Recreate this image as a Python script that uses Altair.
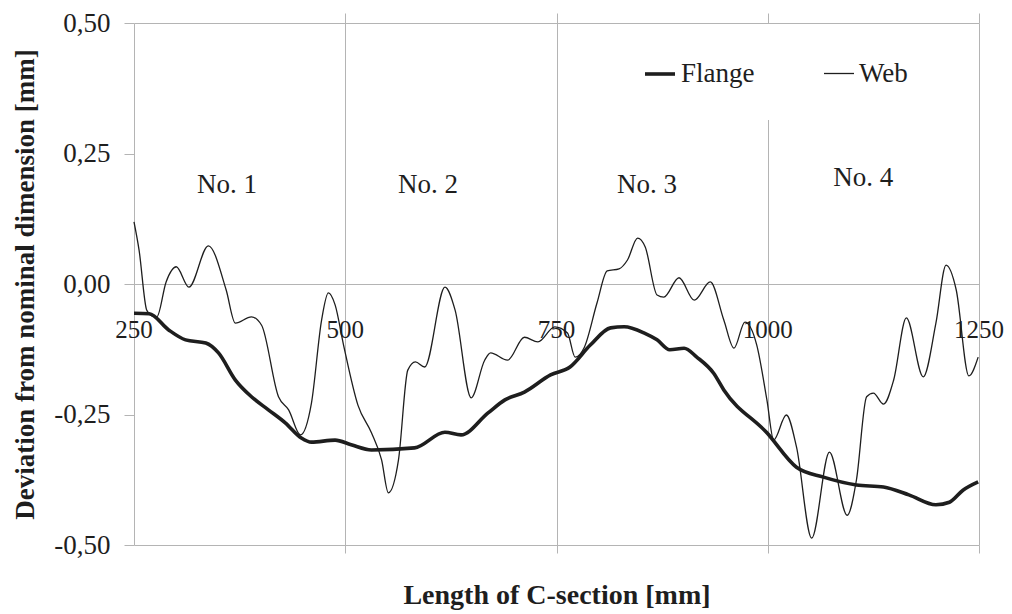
import json
import altair as alt
import pandas as pd

# ---------------- data ----------------
flange_x = [250, 268, 291, 311, 335, 350, 370, 389, 409, 429, 448, 460, 488, 507,
            531, 582, 618, 637, 669, 689, 712, 743, 766, 790, 814, 830, 854, 869,
            884, 901, 916, 936, 948, 999, 1034, 1066, 1105, 1137, 1167, 1199, 1215,
            1231, 1249]
flange_y = [-0.056, -0.057, -0.088, -0.107, -0.113, -0.132, -0.184, -0.216, -0.241,
            -0.266, -0.295, -0.303, -0.299, -0.308, -0.318, -0.314, -0.284, -0.289,
            -0.247, -0.222, -0.207, -0.174, -0.159, -0.117, -0.084, -0.082, -0.094,
            -0.107, -0.126, -0.123, -0.140, -0.171, -0.203, -0.285, -0.351, -0.370,
            -0.385, -0.389, -0.404, -0.423, -0.418, -0.395, -0.379]

web_x = [250, 256, 265, 271, 277, 288, 300, 315, 338, 359, 370, 389, 401, 421, 433,
         447, 460, 472, 480, 488, 498, 515, 531, 543, 551, 563, 574, 583, 594, 618,
         630, 649, 665, 672, 692, 712, 728, 748, 763, 772, 783, 798, 810, 824, 834,
         846, 855, 869, 877, 895, 913, 932, 948, 960, 973, 987, 999, 1007, 1022, 1034,
         1052, 1073, 1094, 1105, 1117, 1125, 1137, 1149, 1164, 1184, 1199, 1211, 1223,
         1238, 1249]
web_y = [0.119, 0.065, -0.050, -0.061, -0.063, 0.004, 0.033, -0.006, 0.073, -0.011,
         -0.075, -0.063, -0.079, -0.216, -0.241, -0.289, -0.228, -0.069, -0.017, -0.040,
         -0.117, -0.232, -0.285, -0.337, -0.400, -0.337, -0.165, -0.149, -0.159, -0.006,
         -0.050, -0.218, -0.146, -0.132, -0.146, -0.102, -0.111, -0.082, -0.094, -0.140,
         -0.121, -0.036, 0.025, 0.029, 0.046, 0.088, 0.071, -0.021, -0.025, 0.012,
         -0.031, 0.004, -0.069, -0.123, -0.073, -0.117, -0.222, -0.299, -0.251, -0.312,
         -0.487, -0.322, -0.443, -0.375, -0.216, -0.209, -0.230, -0.184, -0.065, -0.178,
         -0.075, 0.036, -0.011, -0.176, -0.140]

series_names = ["Flange", "Web"]

x_ticks = [250, 500, 750, 1000, 1250]
x_tick_labels = ["250", "500", "750", "1000", "1250"]
x_grid = [500, 750, 1000, 1250]

y_ticks = [-0.5, -0.25, 0, 0.25, 0.5]
y_tick_labels = ["-0,50", "-0,25", "0,00", "0,25", "0,50"]

zone_labels = ["No. 1", "No. 2", "No. 3", "No. 4"]
zone_x = [360, 598, 857, 1113]
zone_y = [0.19, 0.19, 0.19, 0.203]

x_title = "Length of C-section [mm]"
y_title = "Deviation from nominal dimension [mm]"

# ---------------- tables ----------------
lines_df = pd.concat([
    pd.DataFrame({"x": flange_x, "v": flange_y, "series": series_names[0]}),
    pd.DataFrame({"x": web_x, "v": web_y, "series": series_names[1]}),
], ignore_index=True)
xlab_df = pd.DataFrame({"x": x_ticks, "label": x_tick_labels, "v": [0] * len(x_ticks)})
zone_df = pd.DataFrame({"x": zone_x, "v": zone_y, "label": zone_labels})

FONT = "Liberation Serif"
GRID = "#b4b4b4"
INK = "#1e1e1e"

xscale = alt.Scale(domain=[250, 1250], nice=False, zero=False)
yscale = alt.Scale(domain=[-0.5, 0.5], nice=False, zero=False)

y_label_expr = "{}[indexof({}, datum.value)]".format(json.dumps(y_tick_labels), json.dumps(y_ticks))

y_axis = alt.Axis(
    values=y_ticks, labelExpr=y_label_expr,
    grid=True, gridColor=GRID, gridWidth=1,
    gridOpacity={"condition": {"test": "abs(datum.value) == 0.25", "value": 0}, "value": 1},
    domain=True, domainColor=GRID, domainWidth=1,
    ticks=True, tickSize=10, tickColor=GRID,
    labelFont=FONT, labelFontSize=27, labelColor=INK, labelPadding=14,
    title=y_title, titleFont=FONT, titleFontSize=27, titleFontWeight="bold",
    titleColor=INK, titleX=-109, titleBaseline="middle")


def y_enc():
    return alt.Y("v:Q", scale=yscale, axis=y_axis)


lines = alt.Chart(lines_df).mark_line(interpolate="monotone", color=INK).encode(
    x=alt.X("x:Q", scale=xscale, axis=alt.Axis(
        orient="bottom", values=x_grid, labels=False, domain=False,
        grid=True, gridColor=GRID, gridWidth=1,
        ticks=True, tickSize=8, tickColor=GRID,
        title=x_title, titleFont=FONT, titleFontSize=28, titleFontWeight="bold",
        titleColor=INK, titleBaseline="alphabetic", titleY=58)),
    y=y_enc(),
    strokeWidth=alt.StrokeWidth("series:O", scale=alt.Scale(domain=series_names, range=[3.6, 1.3]),
                                legend=alt.Legend(
                                    title=None, orient="none", legendX=476, legendY=1,
                                    direction="horizontal", fillColor="white", padding=33,
                                    symbolType="stroke", symbolSize=900,
                                    symbolStrokeColor=INK, labelFont=FONT, labelFontSize=27,
                                    labelColor=INK, labelOffset=4, columnPadding=66)),
    detail="series:N",
)

xlabels = alt.Chart(xlab_df).mark_text(font=FONT, fontSize=25, color=INK,
                                       baseline="alphabetic", align="center", dy=54).encode(
    x=alt.X("x:Q", scale=xscale, axis=alt.Axis(
        orient="top", values=x_grid, labels=False, domain=False, grid=False,
        ticks=True, tickSize=10, tickColor=GRID, title=None)),
    y=y_enc(),
    text="label:N",
)

zones = alt.Chart(zone_df).mark_text(font=FONT, fontSize=27, color=INK,
                                     baseline="middle", align="center").encode(
    x=alt.X("x:Q", scale=xscale, axis=None),
    y=y_enc(),
    text="label:N",
)

chart = alt.layer(lines, xlabels, zones).resolve_axis(x="independent").properties(
    width=845, height=522,
    background="white",
    autosize=alt.AutoSizeParams(type="none"),
    padding={"left": 126, "top": 15, "right": 25, "bottom": 69},
).configure_view(stroke=None)

chart.save("out.html", embed_options={"renderer": "svg", "actions": False})
